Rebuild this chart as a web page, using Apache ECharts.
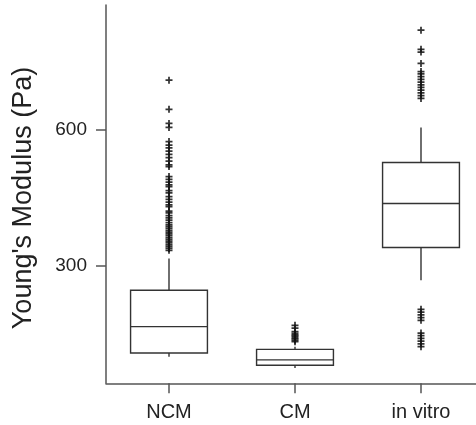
<!DOCTYPE html>
<html>
<head>
<meta charset="utf-8">
<script src="https://cdn.jsdelivr.net/npm/echarts@6/dist/echarts.min.js"></script>
<style>html,body{margin:0;padding:0;background:#fff;}#c{width:476px;height:425px;}</style>
</head>
<body>
<div id="c"></div>
<script>
const categories = ['NCM', 'CM', 'in vitro'];
const whiskerLow = [100, 75, 268];
const q1 = [108, 81, 340];
const median = [166, 93, 437];
const q3 = [246, 116, 527];
const whiskerHigh = [316, 122, 604];
const ncmOutliers = [708, 644, 613, 604, 573, 565, 559, 552, 545, 538, 530, 522, 518, 496, 490, 484, 478, 474, 465, 460, 452, 446, 440, 434, 430, 420, 416, 410, 405, 400, 395, 390, 386, 382, 378, 374, 370, 366, 362, 358, 354, 350, 346, 342, 338, 334];
const cmOutliers = [169, 163, 155, 151, 148, 145, 142, 139, 136, 133];
const invitroOutliers = [818, 776, 770, 745, 727, 722, 716, 710, 704, 698, 692, 686, 680, 674, 668, 204, 198, 192, 186, 180, 152, 146, 140, 134, 128, 122];
const yTicks = [300, 600];
const yTitle = "Young's Modulus (Pa)";

const boxData = categories.map((c, i) => [i + 1, whiskerLow[i], q1[i], median[i], q3[i], whiskerHigh[i]]);
const outlierData = [];
[ncmOutliers, cmOutliers, invitroOutliers].forEach((arr, i) => arr.forEach(v => outlierData.push([i + 1, v])));

const chart = echarts.init(document.getElementById('c'));
const lineStyle = { stroke: '#333', lineWidth: 1.4, fill: 'none' };
chart.setOption({
  animation: false,
  backgroundColor: '#fff',
  grid: { left: 106, right: 0, top: 5, bottom: 41.7 },
  xAxis: {
    type: 'value', min: 0.5, max: 0.5 + 370 / 126,
    axisLine: { show: true, onZero: false, lineStyle: { color: '#555', width: 1.5 } },
    axisTick: { show: true, customValues: [1, 2, 3], length: 10, lineStyle: { color: '#555', width: 1.5 } },
    axisLabel: { customValues: [1, 2, 3], formatter: v => categories[Math.round(v) - 1], margin: 19, fontSize: 20, color: '#222', fontFamily: 'Liberation Sans, Arial, sans-serif' },
    splitLine: { show: false }
  },
  yAxis: {
    type: 'value', min: 41.4, max: 873.4,
    axisLine: { show: true, onZero: false, lineStyle: { color: '#555', width: 1.5 } },
    axisTick: { show: true, customValues: yTicks, length: 10, lineStyle: { color: '#555', width: 1.5 } },
    axisLabel: { customValues: yTicks, margin: 19, fontSize: 19, color: '#222', fontFamily: 'Liberation Sans, Arial, sans-serif' },
    splitLine: { show: false }
  },
  graphic: [{
    type: 'text', x: 24, y: 198, rotation: Math.PI / 2,
    style: { text: yTitle, fontSize: 27, fill: '#222', fontFamily: 'Liberation Sans, Arial, sans-serif', align: 'center', verticalAlign: 'middle' }
  }],
  series: [{
    type: 'custom',
    data: boxData,
    renderItem: function (params, api) {
      const x = api.value(0);
      const hw = api.size([1, 0])[0] * 0.305;
      const pLow = api.coord([x, api.value(1)]);
      const pQ1 = api.coord([x, api.value(2)]);
      const pMed = api.coord([x, api.value(3)]);
      const pQ3 = api.coord([x, api.value(4)]);
      const pHigh = api.coord([x, api.value(5)]);
      const cx = pMed[0];
      return {
        type: 'group',
        children: [
          { type: 'rect', shape: { x: cx - hw, y: pQ3[1], width: 2 * hw, height: pQ1[1] - pQ3[1] }, style: lineStyle },
          { type: 'line', shape: { x1: cx - hw, y1: pMed[1], x2: cx + hw, y2: pMed[1] }, style: lineStyle },
          { type: 'line', shape: { x1: cx, y1: pQ3[1], x2: cx, y2: pHigh[1] }, style: lineStyle },
          { type: 'line', shape: { x1: cx, y1: pQ1[1], x2: cx, y2: pLow[1] }, style: lineStyle }
        ]
      };
    }
  }, {
    type: 'scatter',
    data: outlierData,
    symbol: 'path://M-1,-4H1V-1H4V1H1V4H-1V1H-4V-1H-1Z',
    symbolSize: 7,
    itemStyle: { color: '#111', opacity: 0.85 }
  }]
});
</script>
</body>
</html>
